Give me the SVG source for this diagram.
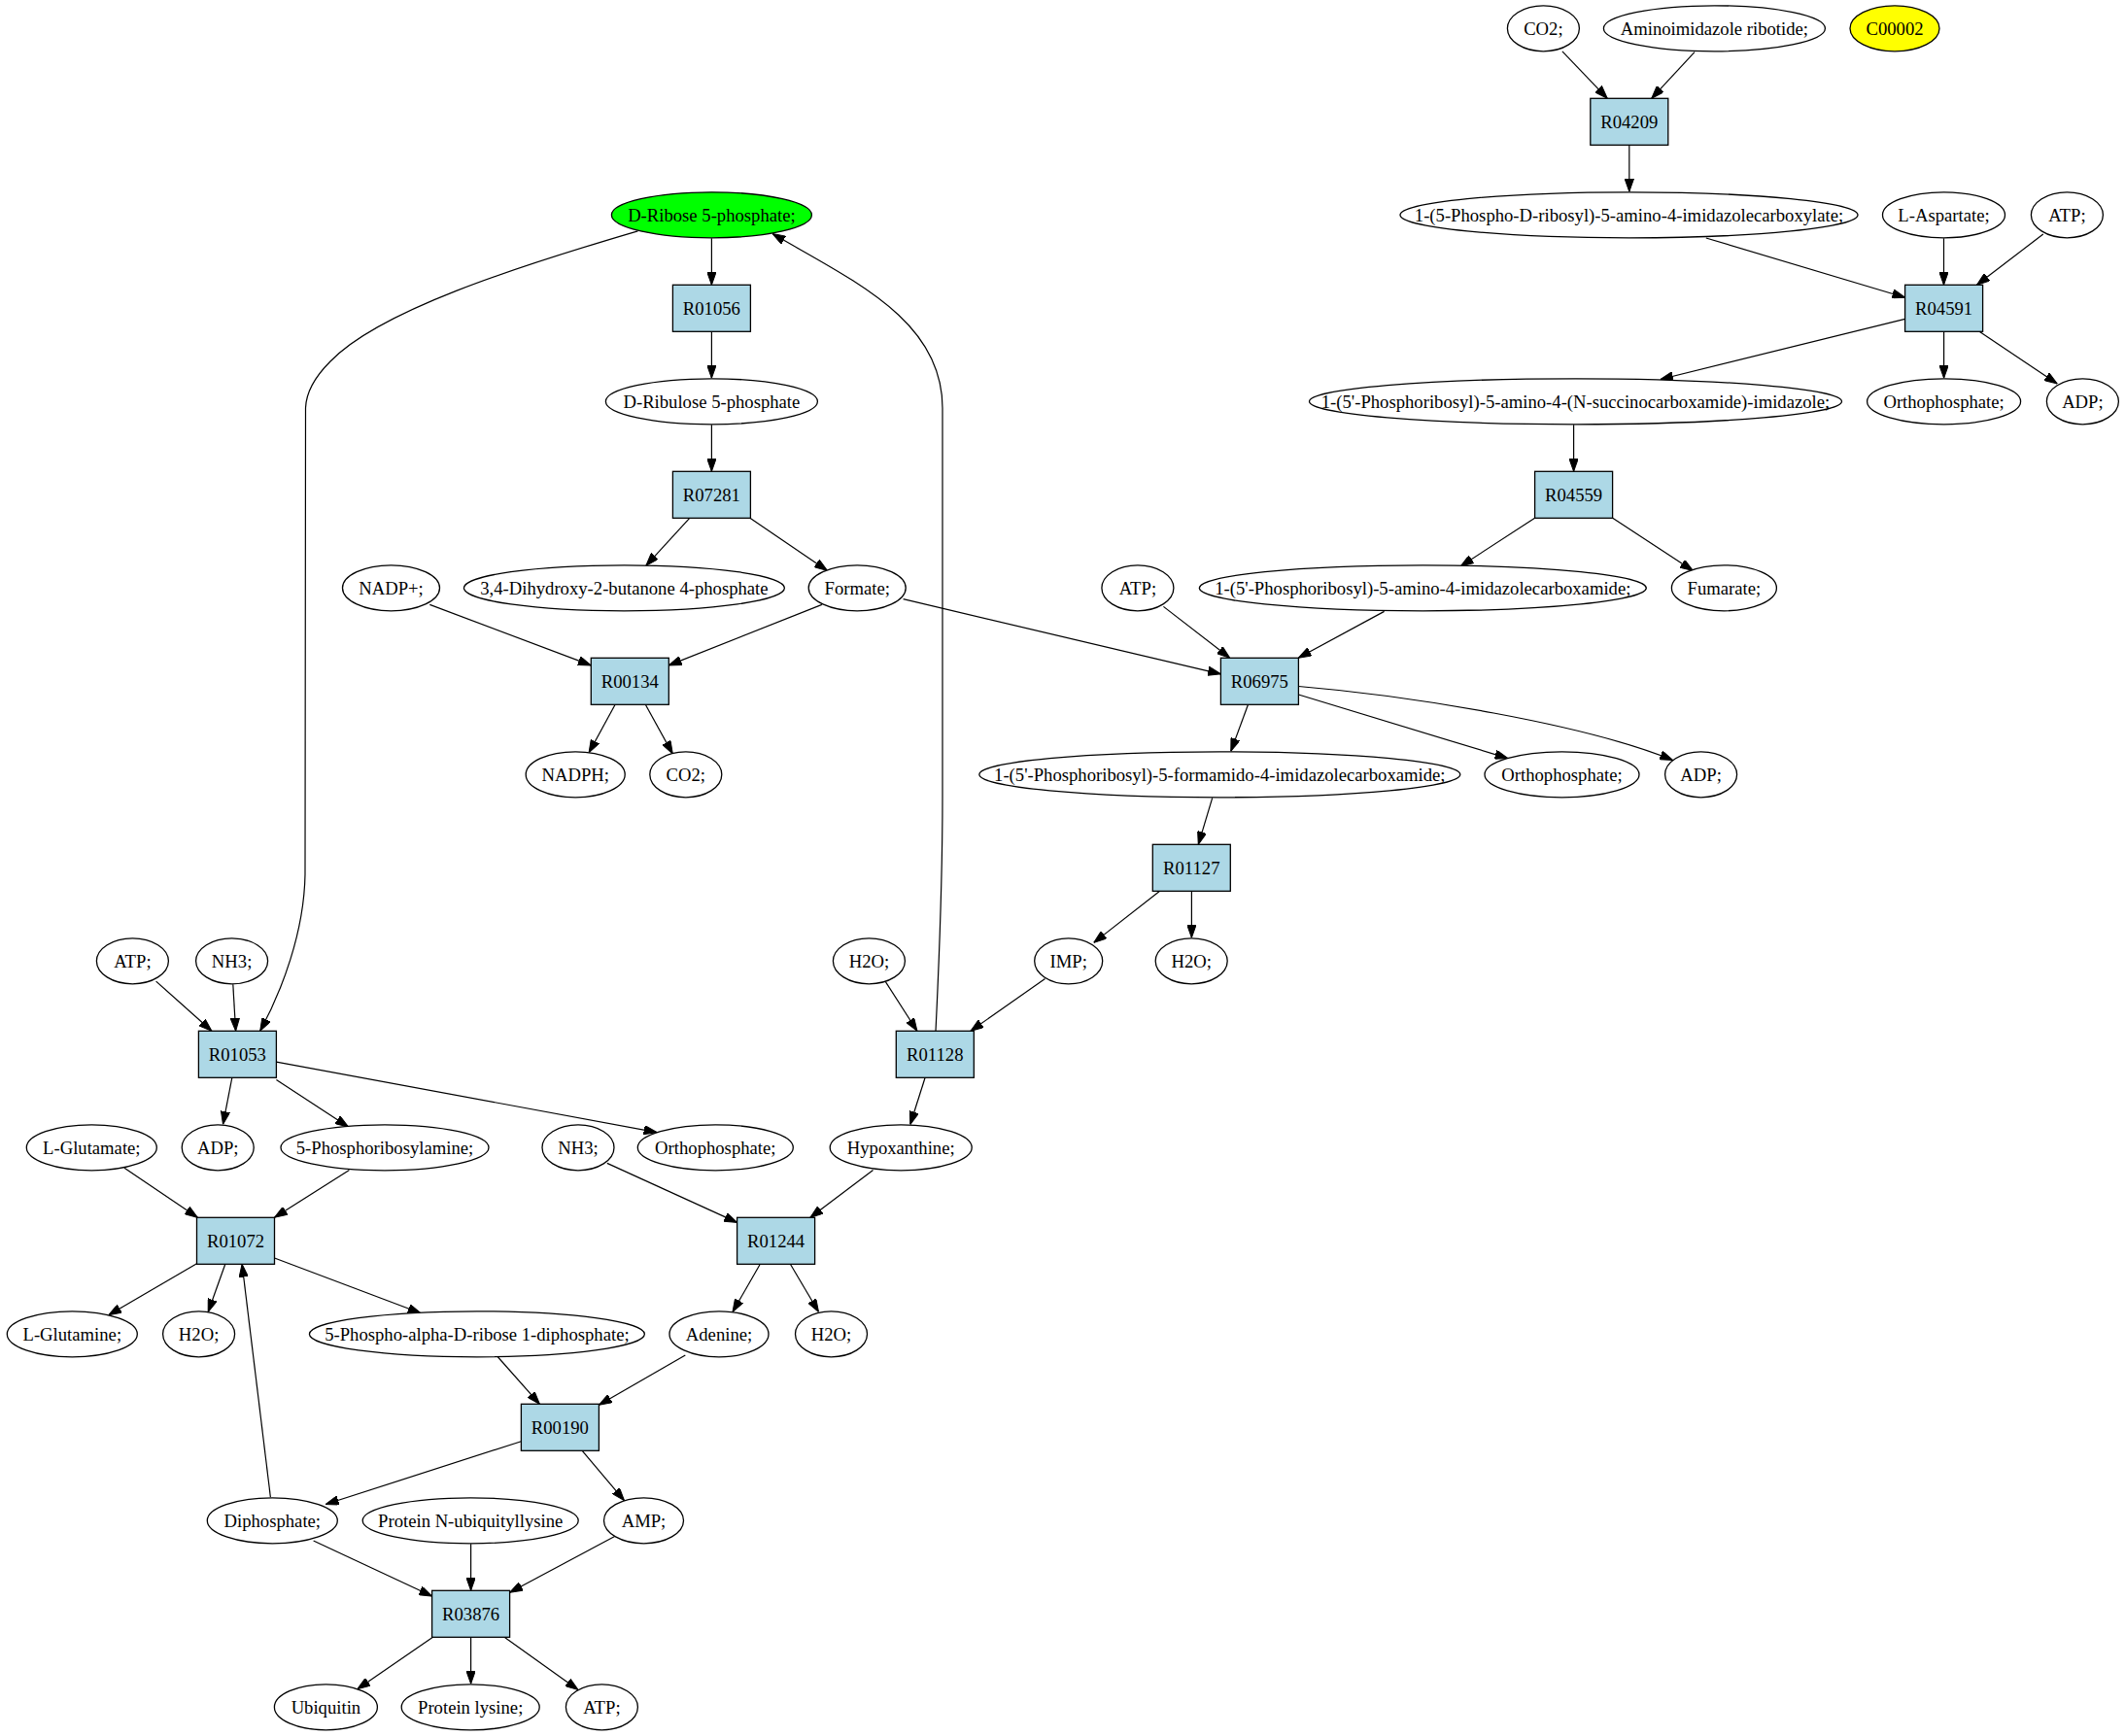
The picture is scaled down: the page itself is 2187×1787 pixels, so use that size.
<svg xmlns="http://www.w3.org/2000/svg" width="2187" height="1787" viewBox="0 0 2187 1787">
<style>
.e ellipse{fill:#fff;stroke:#000;stroke-width:1.3}
.r rect{fill:#add8e6;stroke:#000;stroke-width:1.3}
text{font-family:"Liberation Serif","Times New Roman",serif;font-size:18.67px;text-anchor:middle;fill:#000}
#edges path{fill:none;stroke:#000;stroke-width:1.2;marker-end:url(#ah)}
</style>
<defs>
<marker id="ah" markerUnits="userSpaceOnUse" viewBox="0 0 13.3 9.4" refX="13.3" refY="4.7" markerWidth="13.3" markerHeight="9.4" orient="auto">
<path d="M0,0 L13.3,4.7 L0,9.4 z" fill="#000" stroke="#000" stroke-width="1"/>
</marker>
</defs>
<rect width="2187" height="1787" fill="#fff"/>
<g id="edges">
<path d="M1607.9,52.8 L1654.3,101.3"/>
<path d="M1744,53.6 L1699.7,101.3"/>
<path d="M1676.8,149.3 L1676.8,197.3"/>
<path d="M1755.8,245 L1960.6,306.2"/>
<path d="M2000.5,245.3 L2000.5,293.3"/>
<path d="M2102.8,241 L2034.5,293.3"/>
<path d="M1960.6,328.4 L1708.8,390.5"/>
<path d="M2000.6,341.3 L2000.6,389.3"/>
<path d="M2037.1,341.3 L2117.2,395"/>
<path d="M1619.6,437.3 L1619.6,485.3"/>
<path d="M1579.6,533.3 L1503.2,582.9"/>
<path d="M1659.7,533.3 L1742.4,587.4"/>
<path d="M732.4,245.3 L732.4,293.3"/>
<path d="M732.4,341.3 L732.4,389.3"/>
<path d="M732.4,437.3 L732.4,485.3"/>
<path d="M709.7,533.3 L664.8,582.3"/>
<path d="M771.9,533.3 L851.5,587.4"/>
<path d="M442.3,622.4 L608.3,684.9"/>
<path d="M845.9,622.4 L688.3,684.9"/>
<path d="M929.6,616.7 L1256.4,693.8"/>
<path d="M1197.4,624.4 L1265.8,677.3"/>
<path d="M1424.6,629.4 L1336.2,677.3"/>
<path d="M1284.5,725.3 L1266.8,773.3"/>
<path d="M1336.4,715 L1551.8,780.6"/>
<path d="M1336.4,706.5 C1450,716 1630,745 1721.6,782.5"/>
<path d="M633.1,725.3 L606.1,774.8"/>
<path d="M664.3,725.3 L692.3,776"/>
<path d="M1247.7,821.3 L1233.3,869.3"/>
<path d="M1193.6,917.3 L1125.7,970.4"/>
<path d="M1226.4,917.3 L1226.4,965.3"/>
<path d="M911.4,1010.6 L943.9,1061.3"/>
<path d="M1075.5,1007.5 L998.9,1061.3"/>
<path d="M952.1,1109.3 L936.8,1157.5"/>
<path d="M963,1061.3 C966,1000 970,900 970,820 L970,420 C970,330 880,290 795,240.5"/>
<path d="M656.4,237.8 C530,275 390,320 340,372 C322,390 315,405 314.5,420 L314,900 C313,960 290,1020 267.7,1061.3"/>
<path d="M160.6,1010.1 L217.9,1061.3"/>
<path d="M239.8,1013.3 L242.6,1061.3"/>
<path d="M238.8,1109.3 L229.5,1157.3"/>
<path d="M284.4,1111.6 L358.5,1159.9"/>
<path d="M284.4,1093.1 L676,1165.6"/>
<path d="M128,1202.3 L203.4,1253.3"/>
<path d="M359.4,1204.4 L282.5,1253.3"/>
<path d="M624.8,1197.4 L758.6,1258.4"/>
<path d="M898.5,1204.4 L833.9,1253.3"/>
<path d="M202.5,1300.8 L111.7,1353.7"/>
<path d="M231.8,1301.3 L214.2,1350.5"/>
<path d="M282.5,1295 L433,1351.8"/>
<path d="M278.4,1541.3 L249.1,1301.3"/>
<path d="M782.3,1301.3 L754,1350.5"/>
<path d="M813.4,1301.3 L842.5,1350.5"/>
<path d="M512.1,1396.5 L555.4,1445.3"/>
<path d="M705.3,1395 L616.4,1446.3"/>
<path d="M536.4,1483.7 L335.2,1548.5"/>
<path d="M599.2,1493.3 L642.5,1544.7"/>
<path d="M322.6,1586 L444.6,1643"/>
<path d="M484.6,1589.3 L484.6,1637.3"/>
<path d="M633.1,1581.3 L524.6,1639.2"/>
<path d="M445.5,1685.3 L367.8,1738.7"/>
<path d="M484.6,1685.3 L484.6,1733.3"/>
<path d="M519.1,1685.3 L595,1739.5"/>
</g>
<g id="c_co2a" class="e"><ellipse cx="1588.4" cy="29.3" rx="37" ry="23.5"/><text x="1588.4" y="35.6">CO2;</text></g>
<g id="c_air" class="e"><ellipse cx="1764.4" cy="29.3" rx="114" ry="23.5"/><text x="1764.4" y="35.6">Aminoimidazole ribotide;</text></g>
<g id="c_c00002" class="e"><ellipse cx="1950" cy="29.3" rx="46" ry="23.5" style="fill:#ffff00"/><text x="1950" y="35.6">C00002</text></g>
<g id="c_cair" class="e"><ellipse cx="1676.5" cy="221.3" rx="235.5" ry="23.5"/><text x="1676.5" y="227.6">1-(5-Phospho-D-ribosyl)-5-amino-4-imidazolecarboxylate;</text></g>
<g id="c_asp" class="e"><ellipse cx="2000.5" cy="221.3" rx="63" ry="23.5"/><text x="2000.5" y="227.6">L-Aspartate;</text></g>
<g id="c_atp1" class="e"><ellipse cx="2127.4" cy="221.3" rx="37" ry="23.5"/><text x="2127.4" y="227.6">ATP;</text></g>
<g id="c_dr5p" class="e"><ellipse cx="732.4" cy="221.3" rx="103" ry="23.5" style="fill:#00ff00"/><text x="732.4" y="227.6">D-Ribose 5-phosphate;</text></g>
<g id="c_dru5p" class="e"><ellipse cx="732.4" cy="413.3" rx="109" ry="23.5"/><text x="732.4" y="419.6">D-Ribulose 5-phosphate</text></g>
<g id="c_saicar" class="e"><ellipse cx="1621.5" cy="413.3" rx="274" ry="23.5"/><text x="1621.5" y="419.6">1-(5'-Phosphoribosyl)-5-amino-4-(N-succinocarboxamide)-imidazole;</text></g>
<g id="c_pi1" class="e"><ellipse cx="2000.6" cy="413.3" rx="79" ry="23.5"/><text x="2000.6" y="419.6">Orthophosphate;</text></g>
<g id="c_adp1" class="e"><ellipse cx="2143.4" cy="413.3" rx="37" ry="23.5"/><text x="2143.4" y="419.6">ADP;</text></g>
<g id="c_nadp" class="e"><ellipse cx="402.5" cy="605.3" rx="50" ry="23.5"/><text x="402.5" y="611.6">NADP+;</text></g>
<g id="c_dhbp" class="e"><ellipse cx="642.4" cy="605.3" rx="165" ry="23.5"/><text x="642.4" y="611.6">3,4-Dihydroxy-2-butanone 4-phosphate</text></g>
<g id="c_formate" class="e"><ellipse cx="882.2" cy="605.3" rx="50" ry="23.5"/><text x="882.2" y="611.6">Formate;</text></g>
<g id="c_atp2" class="e"><ellipse cx="1170.9" cy="605.3" rx="37" ry="23.5"/><text x="1170.9" y="611.6">ATP;</text></g>
<g id="c_aicar" class="e"><ellipse cx="1464.3" cy="605.3" rx="230" ry="23.5"/><text x="1464.3" y="611.6">1-(5'-Phosphoribosyl)-5-amino-4-imidazolecarboxamide;</text></g>
<g id="c_fum" class="e"><ellipse cx="1774.4" cy="605.3" rx="54" ry="23.5"/><text x="1774.4" y="611.6">Fumarate;</text></g>
<g id="c_nadph" class="e"><ellipse cx="592.2" cy="797.3" rx="51" ry="23.5"/><text x="592.2" y="803.6">NADPH;</text></g>
<g id="c_co2b" class="e"><ellipse cx="705.8" cy="797.3" rx="37" ry="23.5"/><text x="705.8" y="803.6">CO2;</text></g>
<g id="c_faicar" class="e"><ellipse cx="1255.3" cy="797.3" rx="247.5" ry="23.5"/><text x="1255.3" y="803.6">1-(5'-Phosphoribosyl)-5-formamido-4-imidazolecarboxamide;</text></g>
<g id="c_pi2" class="e"><ellipse cx="1607.5" cy="797.3" rx="79.5" ry="23.5"/><text x="1607.5" y="803.6">Orthophosphate;</text></g>
<g id="c_adp2" class="e"><ellipse cx="1750.6" cy="797.3" rx="37" ry="23.5"/><text x="1750.6" y="803.6">ADP;</text></g>
<g id="c_atp3" class="e"><ellipse cx="136.4" cy="989.3" rx="37" ry="23.5"/><text x="136.4" y="995.6">ATP;</text></g>
<g id="c_nh3a" class="e"><ellipse cx="238.6" cy="989.3" rx="37" ry="23.5"/><text x="238.6" y="995.6">NH3;</text></g>
<g id="c_h2oa" class="e"><ellipse cx="894.4" cy="989.3" rx="37" ry="23.5"/><text x="894.4" y="995.6">H2O;</text></g>
<g id="c_imp" class="e"><ellipse cx="1099.7" cy="989.3" rx="35" ry="23.5"/><text x="1099.7" y="995.6">IMP;</text></g>
<g id="c_h2ob" class="e"><ellipse cx="1226.2" cy="989.3" rx="37" ry="23.5"/><text x="1226.2" y="995.6">H2O;</text></g>
<g id="c_glu" class="e"><ellipse cx="94.3" cy="1181.3" rx="67" ry="23.5"/><text x="94.3" y="1187.6">L-Glutamate;</text></g>
<g id="c_adp3" class="e"><ellipse cx="224.2" cy="1181.3" rx="37" ry="23.5"/><text x="224.2" y="1187.6">ADP;</text></g>
<g id="c_pra" class="e"><ellipse cx="396" cy="1181.3" rx="107" ry="23.5"/><text x="396" y="1187.6">5-Phosphoribosylamine;</text></g>
<g id="c_nh3b" class="e"><ellipse cx="595" cy="1181.3" rx="37" ry="23.5"/><text x="595" y="1187.6">NH3;</text></g>
<g id="c_pi3" class="e"><ellipse cx="736.3" cy="1181.3" rx="80" ry="23.5"/><text x="736.3" y="1187.6">Orthophosphate;</text></g>
<g id="c_hyp" class="e"><ellipse cx="927.2" cy="1181.3" rx="73" ry="23.5"/><text x="927.2" y="1187.6">Hypoxanthine;</text></g>
<g id="c_gln" class="e"><ellipse cx="74.3" cy="1373.3" rx="67" ry="23.5"/><text x="74.3" y="1379.6">L-Glutamine;</text></g>
<g id="c_h2oc" class="e"><ellipse cx="204.6" cy="1373.3" rx="37" ry="23.5"/><text x="204.6" y="1379.6">H2O;</text></g>
<g id="c_prpp" class="e"><ellipse cx="490.9" cy="1373.3" rx="172.5" ry="23.5"/><text x="490.9" y="1379.6">5-Phospho-alpha-D-ribose 1-diphosphate;</text></g>
<g id="c_ade" class="e"><ellipse cx="740" cy="1373.3" rx="51" ry="23.5"/><text x="740" y="1379.6">Adenine;</text></g>
<g id="c_h2od" class="e"><ellipse cx="855.5" cy="1373.3" rx="37" ry="23.5"/><text x="855.5" y="1379.6">H2O;</text></g>
<g id="c_ppi" class="e"><ellipse cx="280.3" cy="1565.3" rx="67" ry="23.5"/><text x="280.3" y="1571.6">Diphosphate;</text></g>
<g id="c_pnub" class="e"><ellipse cx="484.2" cy="1565.3" rx="111" ry="23.5"/><text x="484.2" y="1571.6">Protein N-ubiquityllysine</text></g>
<g id="c_amp" class="e"><ellipse cx="662.5" cy="1565.3" rx="41" ry="23.5"/><text x="662.5" y="1571.6">AMP;</text></g>
<g id="c_ub" class="e"><ellipse cx="335.4" cy="1757.3" rx="53" ry="23.5"/><text x="335.4" y="1763.6">Ubiquitin</text></g>
<g id="c_plys" class="e"><ellipse cx="484.2" cy="1757.3" rx="71" ry="23.5"/><text x="484.2" y="1763.6">Protein lysine;</text></g>
<g id="c_atp4" class="e"><ellipse cx="619.4" cy="1757.3" rx="37" ry="23.5"/><text x="619.4" y="1763.6">ATP;</text></g>
<g id="R04209" class="r"><rect x="1636.8" y="101.3" width="80" height="48"/><text x="1676.8" y="131.6">R04209</text></g>
<g id="R04591" class="r"><rect x="1960.6" y="293.3" width="80" height="48"/><text x="2000.6" y="323.6">R04591</text></g>
<g id="R01056" class="r"><rect x="692.4" y="293.3" width="80" height="48"/><text x="732.4" y="323.6">R01056</text></g>
<g id="R07281" class="r"><rect x="692.4" y="485.3" width="80" height="48"/><text x="732.4" y="515.6">R07281</text></g>
<g id="R04559" class="r"><rect x="1579.6" y="485.3" width="80" height="48"/><text x="1619.6" y="515.6">R04559</text></g>
<g id="R00134" class="r"><rect x="608.3" y="677.3" width="80" height="48"/><text x="648.3" y="707.6">R00134</text></g>
<g id="R06975" class="r"><rect x="1256.4" y="677.3" width="80" height="48"/><text x="1296.4" y="707.6">R06975</text></g>
<g id="R01127" class="r"><rect x="1186.3" y="869.3" width="80" height="48"/><text x="1226.3" y="899.6">R01127</text></g>
<g id="R01053" class="r"><rect x="204.4" y="1061.3" width="80" height="48"/><text x="244.4" y="1091.6">R01053</text></g>
<g id="R01128" class="r"><rect x="922.3" y="1061.3" width="80" height="48"/><text x="962.3" y="1091.6">R01128</text></g>
<g id="R01072" class="r"><rect x="202.5" y="1253.3" width="80" height="48"/><text x="242.5" y="1283.6">R01072</text></g>
<g id="R01244" class="r"><rect x="758.6" y="1253.3" width="80" height="48"/><text x="798.6" y="1283.6">R01244</text></g>
<g id="R00190" class="r"><rect x="536.4" y="1445.3" width="80" height="48"/><text x="576.4" y="1475.6">R00190</text></g>
<g id="R03876" class="r"><rect x="444.6" y="1637.3" width="80" height="48"/><text x="484.6" y="1667.6">R03876</text></g>
</svg>
